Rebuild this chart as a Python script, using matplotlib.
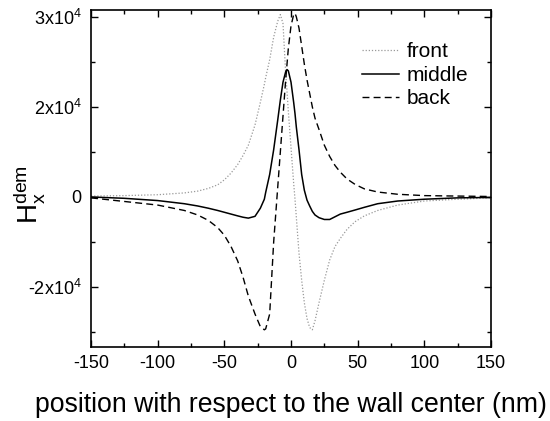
import matplotlib
matplotlib.use("Agg")
import matplotlib.pyplot as plt
from matplotlib.ticker import FixedLocator, MultipleLocator

plt.rcParams['font.family'] = ['Liberation Sans', 'DejaVu Sans']
plt.rcParams['mathtext.fontset'] = 'custom'
plt.rcParams['mathtext.rm'] = 'Liberation Sans'
plt.rcParams['mathtext.it'] = 'Liberation Sans'
plt.rcParams['axes.unicode_minus'] = False

x = [-150, -125, -100, -80, -70, -62, -55, -50, -45, -40, -36, -32, -27, -23, -20, -19, -16, -13,
     -10, -8, -6, -4, -3, -2, 0, 2, 3, 4, 6, 8, 10, 12, 14, 16, 18, 21, 25, 29, 33, 37, 42, 48,
     55, 65, 80, 100, 125, 150]

front = [0.02, 0.03, 0.05, 0.09, 0.13, 0.19, 0.27, 0.38, 0.53, 0.72, 0.92, 1.15, 1.6, 2.1, 2.5,
         2.65, 3.05, 3.55, 3.9, 4.05, 3.85, 2.75, 2.35, 1.9, 1.1, 0.3, -0.05, -0.45, -1.25, -1.85,
         -2.35, -2.7, -2.9, -2.95, -2.75, -2.35, -1.85, -1.4, -1.1, -0.92, -0.72, -0.55, -0.42,
         -0.3, -0.18, -0.09, -0.05, -0.02]

middle = [0.0, -0.03, -0.08, -0.15, -0.2, -0.25, -0.3, -0.34, -0.38, -0.42, -0.45, -0.47, -0.43,
          -0.25, -0.05, 0.1, 0.5, 1.05, 1.7, 2.15, 2.55, 2.78, 2.83, 2.8, 2.55, 2.1, 1.85, 1.55,
          1.05, 0.5, 0.15, -0.07, -0.2, -0.32, -0.4, -0.46, -0.5, -0.5, -0.44, -0.38, -0.34,
          -0.29, -0.23, -0.15, -0.09, -0.05, -0.02, -0.01]

back = [-0.02, -0.1, -0.18, -0.3, -0.4, -0.52, -0.68, -0.85, -1.1, -1.42, -1.78, -2.2, -2.6,
        -2.88, -2.95, -2.93, -2.6, -1.0, 0.2, 1.0, 1.8, 2.6, 2.95, 3.3, 3.8, 4.05, 4.08, 4.0,
        3.75, 3.35, 2.95, 2.6, 2.3, 2.0, 1.75, 1.5, 1.15, 0.9, 0.7, 0.55, 0.4, 0.28, 0.18, 0.11,
        0.06, 0.03, 0.02, 0.01]

scale = 1e4
ytick_vals = [-2e4, 0, 2e4, 4e4]
ytick_labels = [r'-2x10$\mathregular{^4}$', '0', r'2x10$\mathregular{^4}$', r'3x10$\mathregular{^4}$']
xtick_vals = [-150, -100, -50, 0, 50, 100, 150]

fig = plt.figure(figsize=(5.5, 4.21), dpi=100)
ax = fig.add_axes([0.1655, 0.176, 0.7272, 0.800])

ax.plot(x, [v * scale for v in front], color='#999999', lw=0.9, ls=(0, (1, 1.5)), label='front')
ax.plot(x, [v * scale for v in middle], color='black', lw=1.1, ls='-', label='middle')
ax.plot(x, [v * scale for v in back], color='black', lw=1.0, ls=(0, (5, 3)), label='back')

ax.set_xlim(-150, 150)
ax.set_ylim(-3.33e4, 4.15e4)
ax.xaxis.set_major_locator(FixedLocator(xtick_vals))
ax.xaxis.set_minor_locator(MultipleLocator(25))
ax.yaxis.set_major_locator(FixedLocator(ytick_vals))
ax.set_yticklabels(ytick_labels)
ax.yaxis.set_minor_locator(FixedLocator([-3e4, -1e4, 1e4, 3e4]))
ax.tick_params(which='both', direction='in', top=True, right=True, width=1.0, labelsize=13)
ax.tick_params(which='major', length=5)
ax.tick_params(which='minor', length=3)
ax.tick_params(axis='x', pad=6)
ax.tick_params(axis='y', pad=7)
for s in ax.spines.values():
    s.set_linewidth(1.2)

ax.set_xlabel('position with respect to the wall center (nm)', fontsize=19.2, labelpad=14)
fig.text(0.053, 0.537, r'$\mathregular{H_x^{dem}}$', fontsize=20, rotation=90,
         ha='center', va='center')

ax.legend(loc='upper right', frameon=False, fontsize=15, handlelength=1.8,
          handletextpad=0.35, labelspacing=0.22, bbox_to_anchor=(0.99, 0.96))

fig.savefig('out.png', dpi=100)
